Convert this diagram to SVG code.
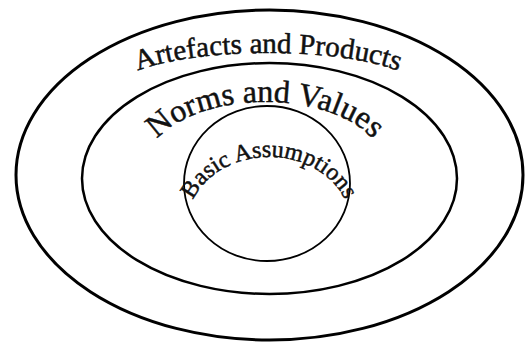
<svg xmlns="http://www.w3.org/2000/svg" width="525" height="345" viewBox="0 0 525 345">
<style>
.ring{fill:none;stroke:#000}
.lbl{font-family:"Liberation Serif","Times New Roman",serif;fill:#111;stroke:#111;stroke-width:0.5}
</style>
<defs>
<path id="pA" d="M113,92 A155,39 0 0 1 423,92"/>
<path id="pN" d="M145,168 A120,66 0 0 1 385,168"/>
<path id="pB" d="M187.2,225 A81.8,68 0 0 1 350.8,225"/>
</defs>
<rect width="525" height="345" fill="#fff"/>
<g id="artefacts">
<ellipse class="ring" cx="269.5" cy="175" rx="253.5" ry="165" stroke-width="3"/>
<text class="lbl" font-size="29" text-anchor="middle"><textPath href="#pA" startOffset="50%">Artefacts and Products</textPath></text>
</g>
<g id="norms">
<ellipse class="ring" cx="269.5" cy="178.5" rx="187.5" ry="115.5" stroke-width="2.5"/>
<text class="lbl" font-size="32" text-anchor="middle"><textPath href="#pN" startOffset="50%">Norms and Values</textPath></text>
</g>
<g id="assumptions">
<ellipse class="ring" cx="267" cy="183.5" rx="83" ry="77.5" stroke-width="1.8"/>
<text class="lbl" font-size="24" text-anchor="middle"><textPath href="#pB" startOffset="50%">Basic Assumptions</textPath></text>
</g>
<g id="connectors"/>
</svg>
